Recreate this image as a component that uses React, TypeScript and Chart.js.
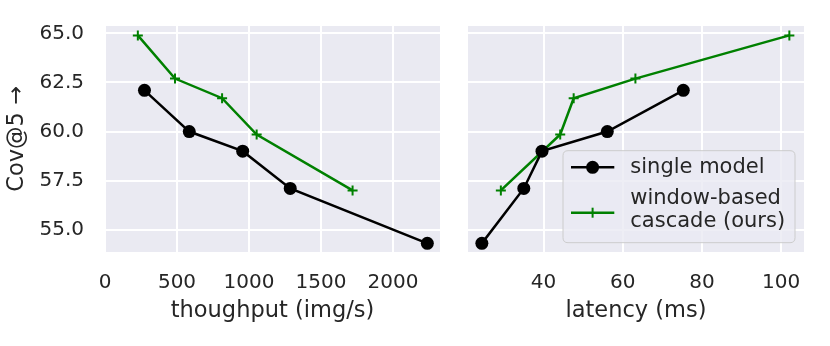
import React, { useEffect, useRef } from 'react';
import { Chart, registerables } from 'chart.js';

Chart.register(...registerables);

const covSingle = [62.1, 60.0, 59.0, 57.1, 54.3];
const covCascade = [64.9, 62.7, 61.7, 59.85, 57.0];
const throughputSingle = [274, 585, 956, 1286, 2238];
const throughputCascade = [228, 486, 813, 1053, 1719];
const latencySingle = [75.3, 56.1, 39.6, 35.0, 24.4];
const latencyCascade = [102.1, 63.2, 47.6, 44.2, 29.2];
const yTicks = [55, 57.5, 60, 62.5, 65];
const throughputTicks = [0, 500, 1000, 1500, 2000];
const latencyTicks = [40, 60, 80, 100];
const seriesNames = ['single model', 'window-based\ncascade (ours)'];

const FAMILY = "'DejaVu Sans', sans-serif";
const TEXT = '#262626';
const GREEN = '#008000';

const bgPlugin = {
  id: 'axbg',
  beforeDraw(chart: any) {
    const { ctx, chartArea: a } = chart;
    ctx.save();
    ctx.fillStyle = '#EAEAF2';
    ctx.fillRect(a.left, a.top, a.right - a.left, a.bottom - a.top);
    ctx.restore();
  },
};

const legendPlugin = {
  id: 'legendBox',
  afterDraw(chart: any) {
    const { ctx, chartArea: a } = chart;
    const w = 232;
    const h = 92;
    const x0 = a.right - 9 - w;
    const y0 = a.bottom - 9.3 - h;
    ctx.save();
    ctx.beginPath();
    const r = 5;
    ctx.moveTo(x0 + r, y0);
    ctx.lineTo(x0 + w - r, y0);
    ctx.quadraticCurveTo(x0 + w, y0, x0 + w, y0 + r);
    ctx.lineTo(x0 + w, y0 + h - r);
    ctx.quadraticCurveTo(x0 + w, y0 + h, x0 + w - r, y0 + h);
    ctx.lineTo(x0 + r, y0 + h);
    ctx.quadraticCurveTo(x0, y0 + h, x0, y0 + h - r);
    ctx.lineTo(x0, y0 + r);
    ctx.quadraticCurveTo(x0, y0, x0 + r, y0);
    ctx.closePath();
    ctx.fillStyle = 'rgba(234,234,242,0.8)';
    ctx.fill();
    ctx.strokeStyle = '#cccccc';
    ctx.lineWidth = 1;
    ctx.stroke();

    const ds = chart.data.datasets;
    // row 1
    const r1 = y0 + 16.6;
    ctx.strokeStyle = ds[0].borderColor;
    ctx.lineWidth = 2.5;
    ctx.beginPath();
    ctx.moveTo(x0 + 8, r1);
    ctx.lineTo(x0 + 51.3, r1);
    ctx.stroke();
    ctx.fillStyle = ds[0].borderColor;
    ctx.beginPath();
    ctx.arc(x0 + 29.6, r1, 6.5, 0, Math.PI * 2);
    ctx.fill();
    // row 2
    const r2 = y0 + 62;
    ctx.strokeStyle = ds[1].borderColor;
    ctx.beginPath();
    ctx.moveTo(x0 + 8, r2);
    ctx.lineTo(x0 + 51.3, r2);
    ctx.stroke();
    ctx.lineWidth = 2;
    ctx.beginPath();
    ctx.moveTo(x0 + 29.6, r2 - 5);
    ctx.lineTo(x0 + 29.6, r2 + 5);
    ctx.stroke();

    ctx.fillStyle = TEXT;
    ctx.font = `21px ${FAMILY}`;
    ctx.textBaseline = 'middle';
    ctx.textAlign = 'left';
    ctx.fillText(ds[0].label, x0 + 67.3, r1);
    const lines = String(ds[1].label).split('\n');
    ctx.fillText(lines[0], x0 + 67.3, y0 + 48.3);
    ctx.fillText(lines[1], x0 + 67.3, y0 + 71);
    ctx.restore();
  },
};

function pts(xs: number[], ys: number[]) {
  return xs.map((x, i) => ({ x, y: ys[i] }));
}

function datasets(xSingle: number[], xCascade: number[]) {
  return [
    {
      label: seriesNames[0],
      data: pts(xSingle, covSingle),
      borderColor: '#000000',
      backgroundColor: '#000000',
      borderWidth: 2.5,
      pointRadius: 6.5,
      pointStyle: 'circle',
      pointBorderWidth: 0,
      pointBackgroundColor: '#000000',
      tension: 0,
      clip: false,
    },
    {
      label: seriesNames[1],
      data: pts(xCascade, covCascade),
      borderColor: GREEN,
      backgroundColor: GREEN,
      borderWidth: 2.5,
      pointRadius: 5,
      pointStyle: 'cross',
      pointBorderWidth: 2,
      pointBorderColor: GREEN,
      tension: 0,
      clip: false,
    },
  ];
}

function xAxis(min: number, max: number, ticks: number[], title: string) {
  return {
    type: 'linear',
    min,
    max,
    afterBuildTicks: (s: any) => {
      s.ticks = ticks.map((v) => ({ value: v }));
    },
    afterFit: (s: any) => {
      s.height = 94;
    },
    grid: { color: '#ffffff', lineWidth: 2, drawTicks: false },
    border: { display: false },
    ticks: {
      padding: 19,
      color: TEXT,
      font: { family: FAMILY, size: 20 },
      maxRotation: 0,
      callback: (v: any) => String(v),
    },
    title: {
      display: true,
      text: title,
      color: TEXT,
      font: { family: FAMILY, size: 22.5 },
      padding: { top: 0, bottom: 21 },
    },
  };
}

function yAxis(showLabels: boolean) {
  return {
    type: 'linear',
    min: 53.86,
    max: 65.38,
    afterBuildTicks: (s: any) => {
      s.ticks = yTicks.map((v) => ({ value: v }));
    },
    afterFit: (s: any) => {
      s.width = showLabels ? 105 : 0;
      s.paddingTop = 0;
      s.paddingBottom = 0;
    },
    grid: { color: '#ffffff', lineWidth: 2, drawTicks: false },
    border: { display: false },
    ticks: {
      display: showLabels,
      padding: 21,
      color: TEXT,
      font: { family: FAMILY, size: 20 },
      callback: (v: any) => Number(v).toFixed(1),
    },
    title: {
      display: showLabels,
      text: 'Cov@5 →',
      color: TEXT,
      font: { family: FAMILY, size: 22.5 },
      padding: { top: 4, bottom: 0 },
    },
  };
}

export default function App() {
  const leftRef = useRef<HTMLCanvasElement>(null);
  const rightRef = useRef<HTMLCanvasElement>(null);

  useEffect(() => {
    const common = {
      animation: false,
      responsive: false,
      devicePixelRatio: 1,
      plugins: { legend: { display: false }, tooltip: { enabled: false } },
    };
    const left = new Chart(leftRef.current as HTMLCanvasElement, {
      type: 'line',
      data: { datasets: datasets(throughputSingle, throughputCascade) as any },
      options: {
        ...common,
        layout: { padding: { left: 0, right: 12, top: 26, bottom: 0 } },
        scales: {
          x: xAxis(0, 2326, throughputTicks, 'thoughput (img/s)'),
          y: yAxis(true),
        },
      } as any,
      plugins: [bgPlugin],
    });
    const right = new Chart(rightRef.current as HTMLCanvasElement, {
      type: 'line',
      data: { datasets: datasets(latencySingle, latencyCascade) as any },
      options: {
        ...common,
        layout: { padding: { left: 16, right: 26, top: 26, bottom: 0 } },
        scales: {
          x: xAxis(20.9, 105.8, latencyTicks, 'latency (ms)'),
          y: yAxis(false),
        },
      } as any,
      plugins: [bgPlugin, legendPlugin],
    });
    return () => {
      left.destroy();
      right.destroy();
    };
  }, []);

  return (
    <div style={{ position: 'absolute', left: 0, top: 0, width: 830, height: 346, background: '#ffffff' }}>
      <canvas ref={leftRef} width={452} height={346} style={{ position: 'absolute', left: 0, top: 0 }} />
      <canvas ref={rightRef} width={378} height={346} style={{ position: 'absolute', left: 452, top: 0 }} />
    </div>
  );
}
